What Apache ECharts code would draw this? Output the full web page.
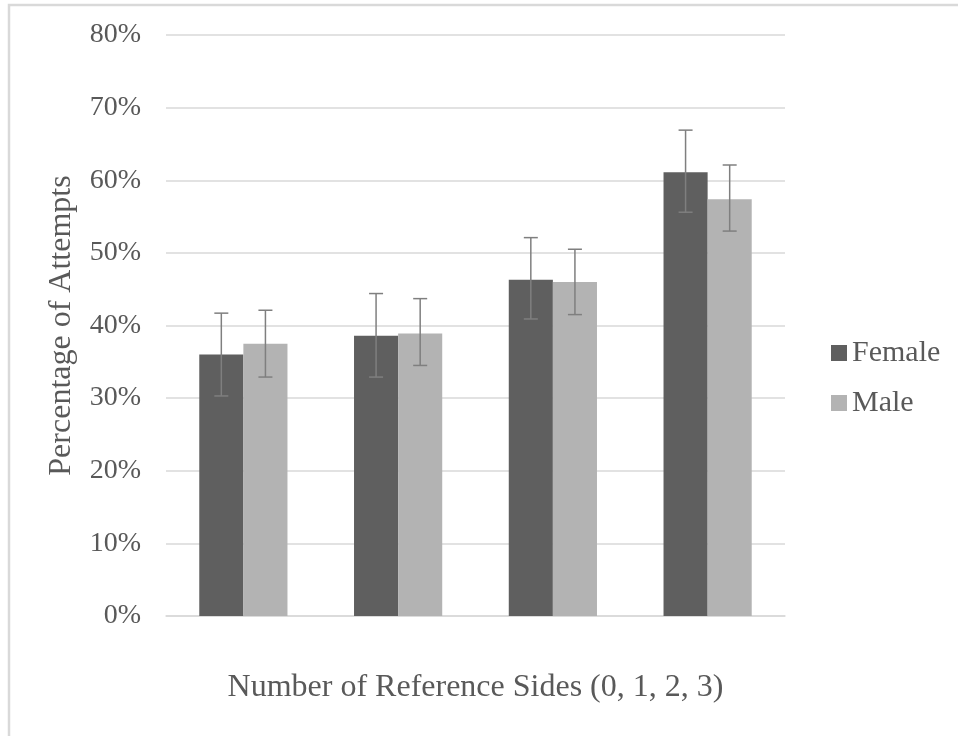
<!DOCTYPE html>
<html>
<head>
<meta charset="utf-8">
<script src="https://cdn.jsdelivr.net/npm/echarts@6/dist/echarts.min.js"></script>
<style>
html,body{margin:0;padding:0;background:#fff;}
#chart{width:958px;height:736px;}
</style>
</head>
<body>
<div id="chart"></div>
<script>
var categories = ['0', '1', '2', '3'];
var seriesNames = ['Female', 'Male'];
var female = [36.0, 38.6, 46.3, 61.1];
var femaleLow = [30.3, 32.9, 40.9, 55.6];
var femaleHigh = [41.7, 44.4, 52.1, 66.9];
var male = [37.5, 38.9, 46.0, 57.4];
var maleLow = [32.9, 34.5, 41.5, 53.0];
var maleHigh = [42.1, 43.7, 50.5, 62.1];
var yTicks = [0, 10, 20, 30, 40, 50, 60, 70, 80];

var BAR_FRAC = 0.285;
var errData = [];
for (var i = 0; i < categories.length; i++) {
  errData.push([i, femaleLow[i], femaleHigh[i], 0]);
  errData.push([i, maleLow[i], maleHigh[i], 1]);
}

function renderErr(params, api) {
  var cat = api.value(0);
  var lo = api.value(1);
  var hi = api.value(2);
  var s = api.value(3);
  var bandW = api.size([1, 0])[0];
  var bw = bandW * BAR_FRAC;
  var off = s === 0 ? -bw / 2 : bw / 2;
  var pLo = api.coord([cat, lo]);
  var pHi = api.coord([cat, hi]);
  var x = pLo[0] + off;
  var cap = 7;
  var st = {stroke: '#7f7f7f', lineWidth: 1.5};
  return {
    type: 'group',
    children: [
      {type: 'line', shape: {x1: x, y1: pLo[1], x2: x, y2: pHi[1]}, style: st},
      {type: 'line', shape: {x1: x - cap, y1: pHi[1], x2: x + cap, y2: pHi[1]}, style: st},
      {type: 'line', shape: {x1: x - cap, y1: pLo[1], x2: x + cap, y2: pLo[1]}, style: st}
    ]
  };
}

var font = "'Liberation Serif', 'Times New Roman', serif";
var txt = '#595959';

var chart = echarts.init(document.getElementById('chart'), null, {renderer: 'canvas'});
chart.setOption({
  animation: false,
  backgroundColor: '#ffffff',
  graphic: [{
    type: 'rect',
    shape: {x: 9, y: 5, width: 1100, height: 900},
    style: {fill: null, stroke: '#d9d9d9', lineWidth: 2.5},
    z: -10
  }],
  grid: {left: 166, right: 173, top: 35, bottom: 120},
  legend: {
    orient: 'vertical',
    left: 826,
    top: 333,
    itemWidth: 16,
    itemHeight: 16,
    itemGap: 20,
    icon: 'rect',
    data: seriesNames,
    textStyle: {fontFamily: font, fontSize: 30, color: txt}
  },
  xAxis: {
    type: 'category',
    data: categories,
    axisLine: {show: true, lineStyle: {color: '#d9d9d9', width: 1.5}},
    axisTick: {show: false},
    axisLabel: {show: false},
    name: 'Number of Reference Sides (0, 1, 2, 3)',
    nameLocation: 'middle',
    nameGap: 56,
    nameTextStyle: {fontFamily: font, fontSize: 32, color: txt}
  },
  yAxis: {
    type: 'value',
    min: yTicks[0],
    max: yTicks[yTicks.length - 1],
    interval: 10,
    axisLine: {show: false},
    axisTick: {show: false},
    splitLine: {lineStyle: {color: '#d9d9d9', width: 1.5}},
    axisLabel: {
      formatter: '{value}%',
      fontFamily: font, fontSize: 28, color: txt, margin: 25
    },
    name: 'Percentage of Attempts',
    nameLocation: 'middle',
    nameRotate: 90,
    nameGap: 88,
    nameTextStyle: {fontFamily: font, fontSize: 32, color: txt}
  },
  series: [
    {
      name: seriesNames[0], type: 'bar', data: female,
      barWidth: (BAR_FRAC * 100) + '%', barGap: '0%',
      itemStyle: {color: '#5f5f5f'}
    },
    {
      name: seriesNames[1], type: 'bar', data: male,
      barWidth: (BAR_FRAC * 100) + '%', barGap: '0%',
      itemStyle: {color: '#b3b3b3'}
    },
    {
      type: 'custom', renderItem: renderErr, data: errData,
      encode: {x: 0, y: [1, 2]}, z: 10, silent: true
    }
  ]
});
</script>
</body>
</html>
